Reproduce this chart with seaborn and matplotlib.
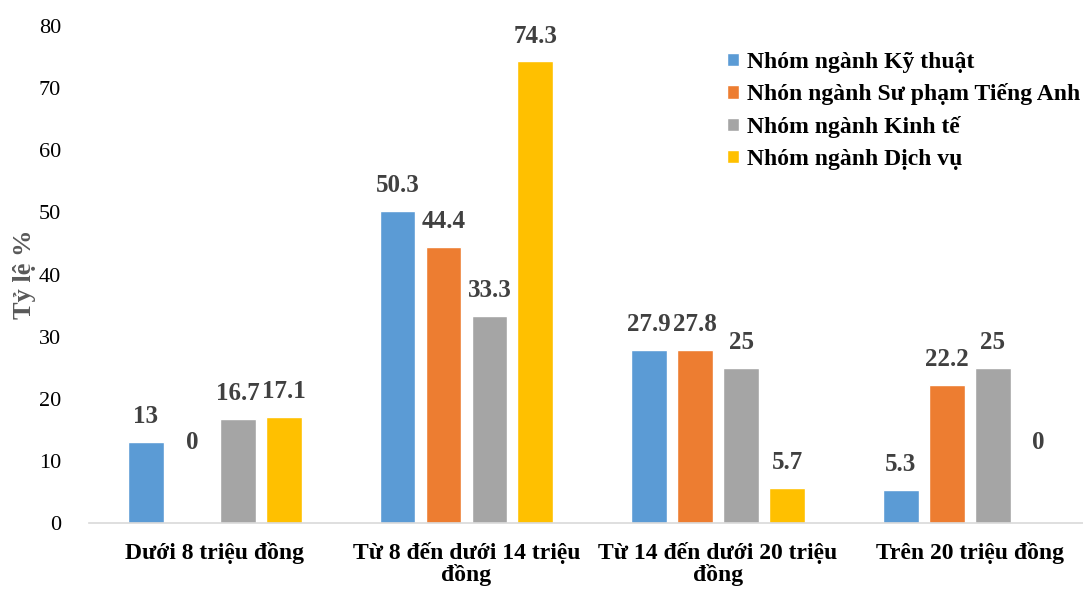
import matplotlib
matplotlib.use("Agg")
import matplotlib.pyplot as plt
import seaborn as sns
import pandas as pd

categories = ["Dưới 8 triệu đồng", "Từ 8 đến dưới 14 triệu\nđồng",
              "Từ 14 đến dưới 20 triệu\nđồng", "Trên 20 triệu đồng"]
series = ["Nhóm ngành Kỹ thuật", "Nhón ngành Sư phạm Tiếng Anh",
          "Nhóm ngành Kinh tế", "Nhóm ngành Dịch vụ"]
ky_thuat = [13, 50.3, 27.9, 5.3]
su_pham = [0, 44.4, 27.8, 22.2]
kinh_te = [16.7, 33.3, 25, 25]
dich_vu = [17.1, 74.3, 5.7, 0]
colors = ["#5B9BD5", "#ED7D31", "#A5A5A5", "#FFC000"]

rows = []
for s, vals in zip(series, [ky_thuat, su_pham, kinh_te, dich_vu]):
    for c, v in zip(categories, vals):
        rows.append({"cat": c, "series": s, "val": v})
df = pd.DataFrame(rows)

sns.set_theme(style="white")
plt.rcParams['font.family'] = ['Liberation Serif', 'DejaVu Serif']

fig = plt.figure(figsize=(10.83, 5.89), dpi=100)
ax = fig.add_axes([89/1083, 1-523/589, 1-89/1083, (523-26)/589])
sns.barplot(data=df, x="cat", y="val", hue="series", palette=colors,
            width=0.73, gap=0.22, ax=ax, errorbar=None, saturation=1)

ax.set_xlim(-0.5, 3.45)
ax.set_ylim(0, 80)
ax.set_yticks(range(0, 81, 10))
ax.tick_params(axis='y', labelsize=16, pad=14, left=False, colors="#000000")
ax.tick_params(axis='x', labelsize=17, pad=8, bottom=False, colors="#000000")
for lab in ax.get_xticklabels():
    lab.set_fontweight("bold")
    lab.set_linespacing(1.0)
ax.set_xlabel("")
ax.set_ylabel("Tỷ lệ %", fontsize=19, fontweight="bold", color="#595959")
ax.yaxis.set_label_coords(-0.053, 0.5)
for sp in ["top", "right", "left"]:
    ax.spines[sp].set_visible(False)
ax.spines["bottom"].set_color("#D9D9D9")
ax.spines["bottom"].set_linewidth(1.2)

for cont in ax.containers:
    anns = ax.bar_label(cont, fmt="%g", padding=10, fontsize=18, fontweight="bold",
                        color="#404040")
    for a, v in zip(anns, cont.datavalues):
        if v == 0:
            a.xyann = (0, 50)

leg = ax.legend(loc="upper left", bbox_to_anchor=(0.642, 0.948), frameon=False,
                prop={"size": 17, "weight": "bold"}, handlelength=0.5,
                handleheight=0.5, handletextpad=0.35, labelspacing=0.45,
                borderpad=0, borderaxespad=0)
for t in leg.get_texts():
    t.set_color("#000000")

fig.savefig("out.png", dpi=100)
